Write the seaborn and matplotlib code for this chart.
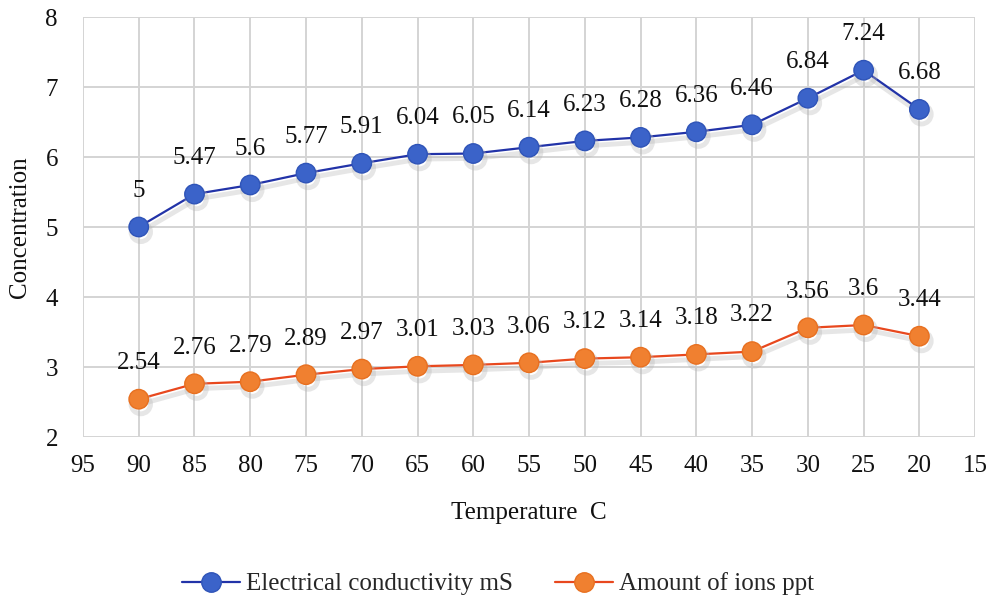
import matplotlib
matplotlib.use("Agg")
import matplotlib.pyplot as plt
import matplotlib.patheffects as pe
from matplotlib.lines import Line2D
import seaborn as sns
import pandas as pd

temperature = [90, 85, 80, 75, 70, 65, 60, 55, 50, 45, 40, 35, 30, 25, 20]
conductivity = [5, 5.47, 5.6, 5.77, 5.91, 6.04, 6.05, 6.14, 6.23, 6.28, 6.36, 6.46, 6.84, 7.24, 6.68]
ions = [2.54, 2.76, 2.79, 2.89, 2.97, 3.01, 3.03, 3.06, 3.12, 3.14, 3.18, 3.22, 3.56, 3.6, 3.44]
series_names = ["Electrical conductivity mS", "Amount of ions ppt"]
conductivity_labels = ["5", "5.47", "5.6", "5.77", "5.91", "6.04", "6.05", "6.14", "6.23", "6.28", "6.36", "6.46", "6.84", "7.24", "6.68"]
ions_labels = ["2.54", "2.76", "2.79", "2.89", "2.97", "3.01", "3.03", "3.06", "3.12", "3.14", "3.18", "3.22", "3.56", "3.6", "3.44"]

sns.set_theme(style="white")
plt.rcParams['font.family'] = ['Liberation Serif', 'DejaVu Serif']

df = pd.DataFrame({
    "Temperature": temperature * 2,
    "Value": conductivity + ions,
    "Series": [series_names[0]] * len(temperature) + [series_names[1]] * len(temperature),
})

FS = 18
fig = plt.figure(figsize=(9.9, 5.97), dpi=100)
ax = fig.add_axes([0.0838, 0.268, 0.9012, 0.7035])

line_colors = {series_names[0]: "#2233A8", series_names[1]: "#E8481E"}
face_colors = {series_names[0]: "#3B63C9", series_names[1]: "#F08030"}
edge_colors = {series_names[0]: "#2F54B8", series_names[1]: "#E87020"}

sns.lineplot(data=df, x="Temperature", y="Value", hue="Series", palette=line_colors,
             marker="o", markersize=14, linewidth=1.6, ax=ax, legend=False, sort=False)

shadow = [pe.SimpleLineShadow(offset=(1.5, -3.5), shadow_color="#b8b8b8", alpha=0.35, linewidth=3.5), pe.Normal()]
for line, name in zip(ax.lines, series_names):
    line.set_markerfacecolor(face_colors[name])
    line.set_markeredgecolor(edge_colors[name])
    line.set_markeredgewidth(1.0)
    line.set_path_effects(shadow)

for vals, labs in ((conductivity, conductivity_labels), (ions, ions_labels)):
    for x, y, t in zip(temperature, vals, labs):
        ax.annotate(t, (x, y), xytext=(0, 26), textcoords="offset points",
                    ha="center", va="center", fontsize=FS, color="#111111")

ax.set_xlim(95, 15)
ax.set_ylim(2, 8)
ax.set_xticks(range(95, 14, -5))
ax.set_yticks(range(2, 9))
ax.grid(True, color="#D4D4D4", linewidth=1.4)
ax.set_axisbelow(True)
for s in ax.spines.values():
    s.set_visible(False)
ax.tick_params(axis="y", labelsize=FS, length=0, pad=18, colors="#111111")
ax.tick_params(axis="x", labelsize=FS, length=0, pad=13, colors="#111111")
ax.set_xlabel("Temperature  C", fontsize=FS, color="#111111")
ax.set_ylabel("Concentration", fontsize=FS, color="#111111")
ax.xaxis.set_label_coords(0.5, -0.155)
ax.yaxis.set_label_coords(-0.058, 0.5)

handles = [Line2D([0], [0], color=line_colors[n], marker="o", markersize=14, linewidth=1.6,
                  markerfacecolor=face_colors[n], markeredgecolor=edge_colors[n]) for n in series_names]
fig.legend(handles, series_names, loc="center", bbox_to_anchor=(0.503, 0.022), ncol=2,
           frameon=False, fontsize=FS, handlelength=2.3, columnspacing=1.7, handletextpad=0.25)

fig.savefig("out.png", dpi=100)
